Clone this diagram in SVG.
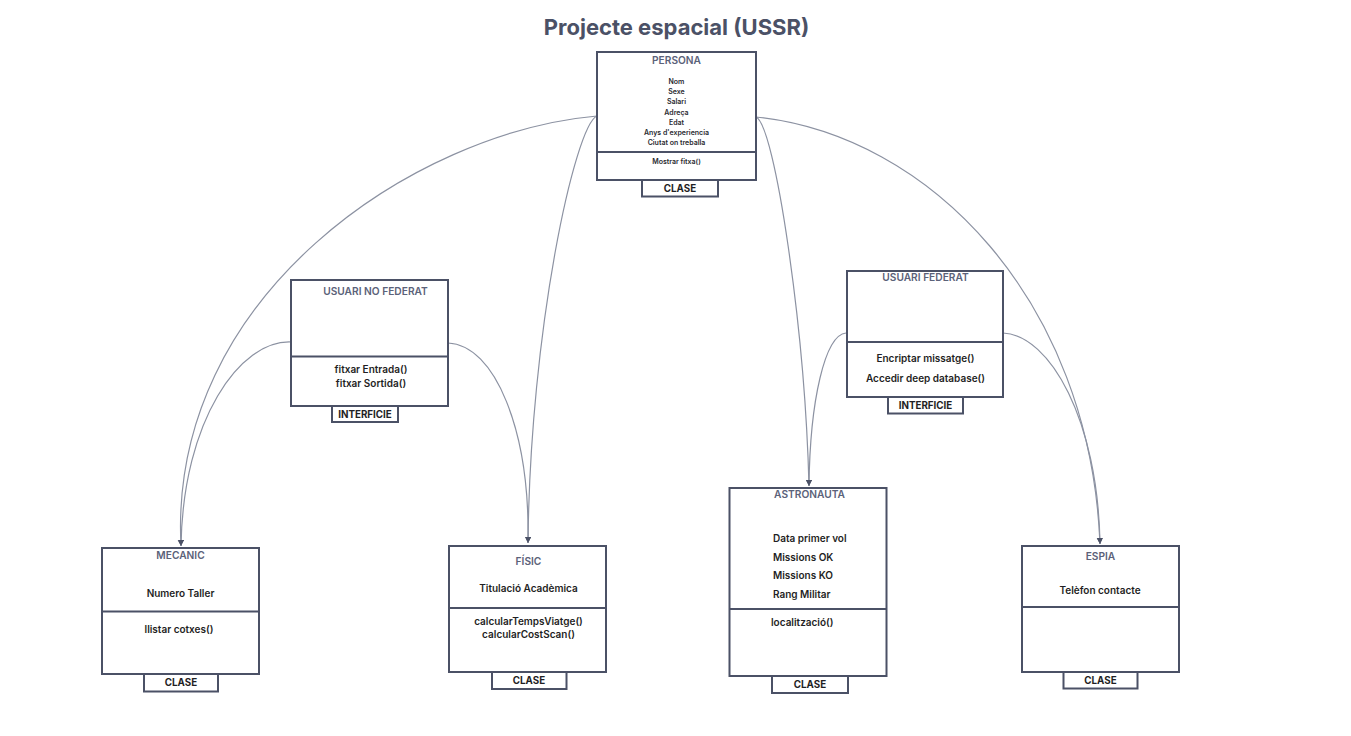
<svg xmlns="http://www.w3.org/2000/svg" width="1351" height="736" viewBox="0 0 1351 736">
<defs>
<style>
.box{fill:#fff;stroke:#4b5166;stroke-width:2}
.div{stroke:#4b5166;stroke-width:2;fill:none}
.tab{fill:#fff;stroke:#4b5166;stroke-width:2}
.conn{fill:none;stroke:#8c92a2;stroke-width:1.2}
.ttl{font-family:Inter,"Liberation Sans",sans-serif;font-weight:600;fill:#5b6279;text-anchor:middle;font-size:10.2px}
.txt{font-family:Inter,"Liberation Sans",sans-serif;font-weight:600;fill:#1f1f24;text-anchor:middle;font-size:10px}
.lt{font-family:Inter,"Liberation Sans",sans-serif;font-weight:600;fill:#1f1f24;text-anchor:start;font-size:10px}
.sm{font-family:Inter,"Liberation Sans",sans-serif;font-weight:600;fill:#2a2a30;text-anchor:middle;font-size:7px}
.tabt{font-family:Inter,"Liberation Sans",sans-serif;font-weight:700;fill:#1f1f24;text-anchor:middle;font-size:9.8px}
</style>
<marker id="arr" markerWidth="8" markerHeight="8" refX="6" refY="3" orient="auto" markerUnits="userSpaceOnUse">
<path d="M0,0 L6,3 L0,6 Z" fill="#4b5166"/>
</marker>
</defs>
<rect width="1351" height="736" fill="#fff"/>
<text x="676.5" y="34.5" style="font-family:Inter,'Liberation Sans',sans-serif;font-weight:700;font-size:22px;fill:#4b5166" text-anchor="middle">Projecte espacial (USSR)</text>

<g id="connectors">
<path class="conn" d="M597,116 C415,132 168,295 181,546" marker-end="url(#arr)"/>
<path class="conn" d="M291,342 C240,340 183,420 181,546" marker-end="url(#arr)"/>
<path class="conn" d="M597,116 C575,125 530,330 528,543" marker-end="url(#arr)"/>
<path class="conn" d="M448,343 C495,345 530,430 528,543" marker-end="url(#arr)"/>
<path class="conn" d="M756,117 C775,125 805,330 809,486" marker-end="url(#arr)"/>
<path class="conn" d="M846,333 C825,335 810,400 809,486" marker-end="url(#arr)"/>
<path class="conn" d="M756,117 C930,135 1090,300 1100,544" marker-end="url(#arr)"/>
<path class="conn" d="M1003,333 C1050,335 1098,420 1100,544" marker-end="url(#arr)"/>
<path d="M373,279 L377,279 L375,283 Z" fill="#4b5166"/>
</g>

<g id="persona">
<rect class="box" x="597" y="52" width="159" height="128"/>
<line class="div" x1="597" y1="152" x2="756" y2="152"/>
<text class="ttl" x="676.5" y="64">PERSONA</text>
<text class="sm" x="676.5" y="84">Nom</text>
<text class="sm" x="676.5" y="94">Sexe</text>
<text class="sm" x="676.5" y="104">Salari</text>
<text class="sm" x="676.5" y="114.5">Adreça</text>
<text class="sm" x="676.5" y="124.5">Edat</text>
<text class="sm" x="676.5" y="134.5">Anys d'experiencia</text>
<text class="sm" x="676.5" y="144.5">Ciutat on treballa</text>
<text class="sm" x="676.5" y="164">Mostrar fitxa()</text>
<rect class="tab" x="642" y="180" width="76" height="16.5"/>
<text class="tabt" x="680" y="191.5">CLASE</text>
</g>

<g id="usuari-no-federat">
<rect class="box" x="291" y="280" width="157" height="126"/>
<line class="div" x1="291" y1="356.5" x2="448" y2="356.5"/>
<text class="ttl" x="375.5" y="294.5">USUARI NO FEDERAT</text>
<text class="txt" x="371" y="373">fitxar Entrada()</text>
<text class="txt" x="371" y="386.5">fitxar Sortida()</text>
<rect class="tab" x="332" y="406" width="66" height="16"/>
<text class="tabt" x="365" y="417.5">INTERFICIE</text>
</g>

<g id="usuari-federat">
<rect class="box" x="847" y="271" width="156" height="126"/>
<line class="div" x1="847" y1="342" x2="1003" y2="342"/>
<text class="ttl" x="925.5" y="281">USUARI FEDERAT</text>
<text class="txt" x="925.5" y="361.5">Encriptar missatge()</text>
<text class="txt" x="925.5" y="382">Accedir deep database()</text>
<rect class="tab" x="888" y="397" width="75" height="16.5"/>
<text class="tabt" x="925.5" y="408.5">INTERFICIE</text>
</g>

<g id="mecanic">
<rect class="box" x="102" y="548" width="157" height="126"/>
<line class="div" x1="102" y1="611.5" x2="259" y2="611.5"/>
<text class="ttl" x="180.5" y="558.5">MECANIC</text>
<text class="txt" x="180.5" y="596.5">Numero Taller</text>
<text class="txt" x="179" y="633">llistar cotxes()</text>
<rect class="tab" x="144" y="674" width="74" height="17.5"/>
<text class="tabt" x="181" y="686">CLASE</text>
</g>

<g id="fisic">
<rect class="box" x="449" y="546" width="157" height="126"/>
<line class="div" x1="449" y1="608" x2="606" y2="608"/>
<text class="ttl" x="528.5" y="565">FÍSIC</text>
<text class="txt" x="528.5" y="592">Titulació Acadèmica</text>
<text class="txt" x="528.5" y="624.5">calcularTempsViatge()</text>
<text class="txt" x="528.5" y="638">calcularCostScan()</text>
<rect class="tab" x="492" y="672" width="74.5" height="17"/>
<text class="tabt" x="529" y="684">CLASE</text>
</g>

<g id="astronauta">
<rect class="box" x="729.5" y="488" width="157" height="188"/>
<line class="div" x1="729.5" y1="609" x2="886.5" y2="609"/>
<text class="ttl" x="809.5" y="498">ASTRONAUTA</text>
<text class="lt" x="773" y="541.5">Data primer vol</text>
<text class="lt" x="773" y="561">Missions OK</text>
<text class="lt" x="773" y="579">Missions KO</text>
<text class="lt" x="773" y="597.5">Rang Militar</text>
<text class="lt" x="771" y="625.5">localització()</text>
<rect class="tab" x="772" y="676" width="76" height="17"/>
<text class="tabt" x="810" y="688">CLASE</text>
</g>

<g id="espia">
<rect class="box" x="1022" y="546" width="157" height="126"/>
<line class="div" x1="1022" y1="607" x2="1179" y2="607"/>
<text class="ttl" x="1100.5" y="560">ESPIA</text>
<text class="txt" x="1100" y="593.5">Telèfon contacte</text>
<rect class="tab" x="1063.5" y="672" width="74" height="16.5"/>
<text class="tabt" x="1100.5" y="684">CLASE</text>
</g>
</svg>
